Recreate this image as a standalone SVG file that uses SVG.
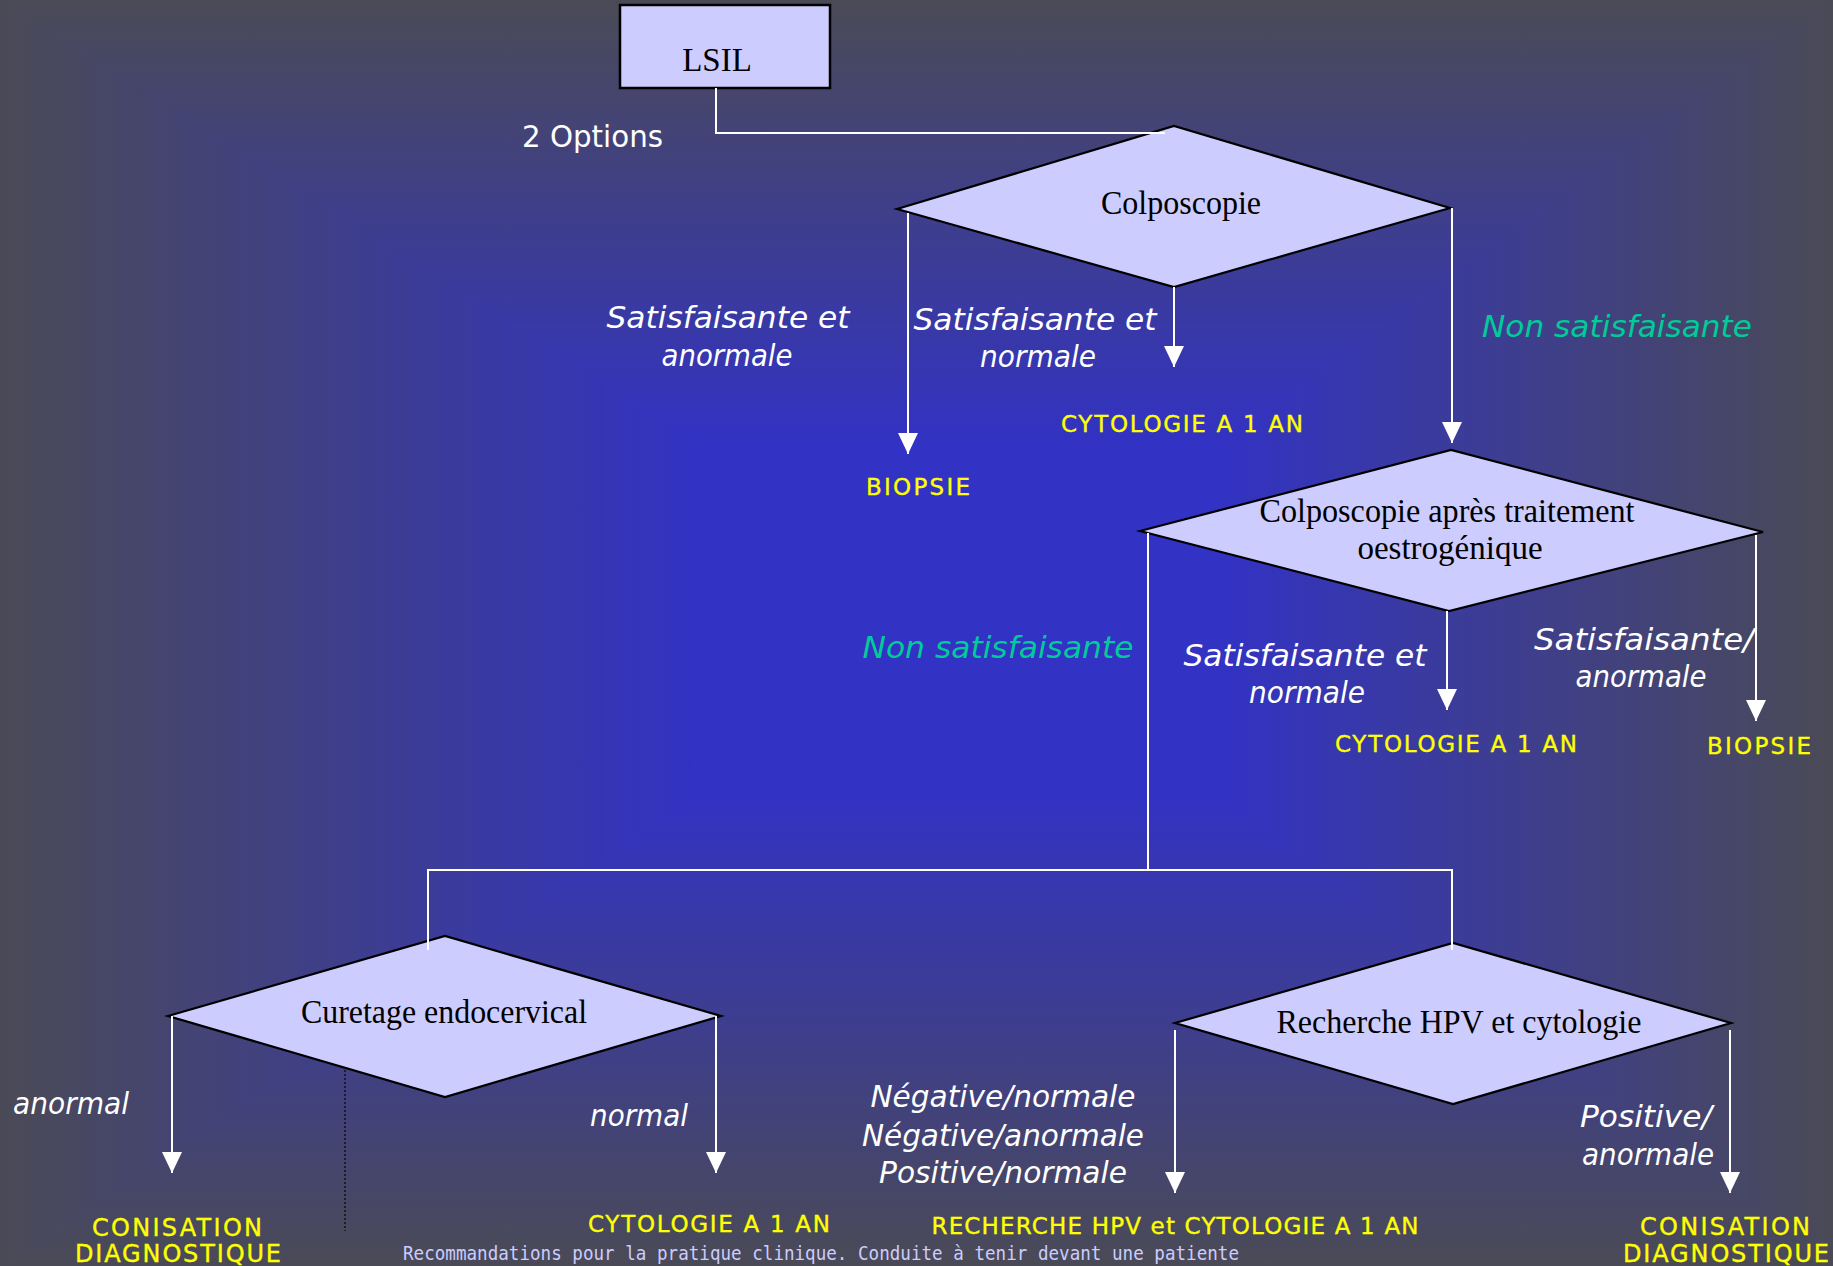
<svg xmlns="http://www.w3.org/2000/svg" width="1833" height="1266" viewBox="0 0 1833 1266">
<defs>
<linearGradient id="gTop" gradientUnits="userSpaceOnUse" x1="0" y1="0" x2="0" y2="445"><stop offset="0" stop-color="#4a4a56"/><stop offset="1" stop-color="#3232c4"/></linearGradient>
<linearGradient id="gBot" gradientUnits="userSpaceOnUse" x1="0" y1="1266" x2="0" y2="795"><stop offset="0" stop-color="#4a4a56"/><stop offset="1" stop-color="#3232c4"/></linearGradient>
<linearGradient id="gLeft" gradientUnits="userSpaceOnUse" x1="0" y1="0" x2="700" y2="0"><stop offset="0" stop-color="#4a4a56"/><stop offset="1" stop-color="#3232c4"/></linearGradient>
<linearGradient id="gRight" gradientUnits="userSpaceOnUse" x1="1833" y1="0" x2="1220" y2="0"><stop offset="0" stop-color="#4a4a56"/><stop offset="1" stop-color="#3232c4"/></linearGradient>
<marker id="arr" viewBox="0 0 21 20" refX="21" refY="10" markerWidth="21" markerHeight="20" markerUnits="userSpaceOnUse" orient="auto">
<path d="M0,0 L21,10 L0,20 z" fill="#ffffff"/>
</marker>
</defs>
<style>
.bg{shape-rendering:crispEdges}
.conn{fill:none;stroke:#ffffff;stroke-width:2}
.dot{fill:none;stroke:#111111;stroke-width:1.5;stroke-dasharray:2 2}
.dia{fill:#ccccff;stroke:#000000;stroke-width:2.2}
.ser{font-family:"Liberation Serif","Times New Roman",serif;font-size:33px;fill:#000000;text-anchor:middle}
.lbl{font-family:"DejaVu Sans",sans-serif;font-style:italic;font-size:31px;fill:#ffffff;text-anchor:middle}
.grn{fill:#00cc99}
.term{font-family:"DejaVu Sans",sans-serif;font-size:23px;fill:#ffff00;stroke:#ffff00;stroke-width:0.35;text-anchor:middle}
.big{font-size:24px}
.foot{font-family:"DejaVu Sans Mono",monospace;font-size:19px;fill:#ccccff}
</style>
<g id="background">
<rect class="bg" x="0" y="0" width="1833" height="1266" fill="#3e3e8d"/>
<polygon class="bg" points="0,0 1833,0 1220,445 700,445" fill="url(#gTop)"/>
<polygon class="bg" points="0,1266 1833,1266 1220,795 700,795" fill="url(#gBot)"/>
<polygon class="bg" points="0,0 700,445 700,795 0,1266" fill="url(#gLeft)"/>
<polygon class="bg" points="1833,0 1220,445 1220,795 1833,1266" fill="url(#gRight)"/>
<rect class="bg" x="700" y="445" width="520" height="350" fill="#3232c4"/>
</g>
<g id="nodes">
<g id="lsil">
<rect x="620" y="5" width="210" height="83" fill="#ccccff" stroke="#000000" stroke-width="2.5"/>
<text class="ser" x="717" y="71">LSIL</text>
</g>
<g id="colposcopie">
<polygon class="dia" points="897,209 1174,126 1450,208 1174,287"/>
<text class="ser" x="1181" y="214" textLength="160" lengthAdjust="spacingAndGlyphs">Colposcopie</text>
</g>
<g id="colposcopie-oestro">
<polygon class="dia" points="1140,531 1451,450 1763,532 1449,611"/>
<text class="ser" x="1447" y="522" textLength="375" lengthAdjust="spacingAndGlyphs">Colposcopie après traitement</text>
<text class="ser" x="1450" y="559">oestrogénique</text>
</g>
<g id="curetage">
<polygon class="dia" points="168,1016 445,936 721,1016 445,1097"/>
<text class="ser" x="444" y="1023" textLength="286" lengthAdjust="spacingAndGlyphs">Curetage endocervical</text>
</g>
<g id="hpv">
<polygon class="dia" points="1175,1023 1453,943 1731,1023 1453,1104"/>
<text class="ser" x="1459" y="1033" textLength="365" lengthAdjust="spacingAndGlyphs">Recherche HPV et cytologie</text>
</g>
<g id="t-cyto1"><text class="term" x="1182" y="432" textLength="242" lengthAdjust="spacing">CYTOLOGIE A 1 AN</text></g>
<g id="t-biopsie1"><text class="term" x="918" y="495" textLength="104" lengthAdjust="spacing">BIOPSIE</text></g>
<g id="t-cyto2"><text class="term" x="1456" y="752" textLength="242" lengthAdjust="spacing">CYTOLOGIE A 1 AN</text></g>
<g id="t-biopsie2"><text class="term" x="1759" y="754" textLength="104" lengthAdjust="spacing">BIOPSIE</text></g>
<g id="t-conisation1"><text class="term big" x="177" y="1236" textLength="170" lengthAdjust="spacing">CONISATION</text><text class="term big" x="178" y="1262" textLength="206" lengthAdjust="spacing">DIAGNOSTIQUE</text></g>
<g id="t-cyto3"><text class="term" x="709" y="1232" textLength="242" lengthAdjust="spacing">CYTOLOGIE A 1 AN</text></g>
<g id="t-hpvcyto"><text class="term" x="1175" y="1234" textLength="487" lengthAdjust="spacing">RECHERCHE HPV et CYTOLOGIE A 1 AN</text></g>
<g id="t-conisation2"><text class="term big" x="1725" y="1235" textLength="170" lengthAdjust="spacing">CONISATION</text><text class="term big" x="1726" y="1262" textLength="206" lengthAdjust="spacing">DIAGNOSTIQUE</text></g>
</g>
<g id="connectors">
<path class="conn" d="M716,88 V133 H1165"/>
<path class="conn" d="M908,213 V454" marker-end="url(#arr)"/>
<path class="conn" d="M1174,287 V367" marker-end="url(#arr)"/>
<path class="conn" d="M1452,208 V443" marker-end="url(#arr)"/>
<path class="conn" d="M1148,533 V870"/>
<path class="conn" d="M428,950 V870 H1452 V950"/>
<path class="conn" d="M1447,611 V710" marker-end="url(#arr)"/>
<path class="conn" d="M1756,535 V721" marker-end="url(#arr)"/>
<path class="conn" d="M172,1016 V1173" marker-end="url(#arr)"/>
<path class="conn" d="M716,1016 V1173" marker-end="url(#arr)"/>
<path class="conn" d="M1175,1030 V1193" marker-end="url(#arr)"/>
<path class="conn" d="M1730,1030 V1193" marker-end="url(#arr)"/>
<path class="dot" d="M345,1070 V1231"/>
</g>
<g id="labels">
<text x="522" y="147" font-family="DejaVu Sans, sans-serif" font-size="31" fill="#ffffff" textLength="141" lengthAdjust="spacingAndGlyphs">2 Options</text>
<text class="lbl" x="728" y="328" textLength="243" lengthAdjust="spacingAndGlyphs">Satisfaisante et</text>
<text class="lbl" x="727" y="366" textLength="131" lengthAdjust="spacingAndGlyphs">anormale</text>
<text class="lbl" x="1035" y="330" textLength="243" lengthAdjust="spacingAndGlyphs">Satisfaisante et</text>
<text class="lbl" x="1038" y="367" textLength="116" lengthAdjust="spacingAndGlyphs">normale</text>
<text class="lbl grn" x="1617" y="337" textLength="270" lengthAdjust="spacingAndGlyphs">Non satisfaisante</text>
<text class="lbl grn" x="998" y="658" textLength="271" lengthAdjust="spacingAndGlyphs">Non satisfaisante</text>
<text class="lbl" x="1305" y="666" textLength="243" lengthAdjust="spacingAndGlyphs">Satisfaisante et</text>
<text class="lbl" x="1307" y="703" textLength="116" lengthAdjust="spacingAndGlyphs">normale</text>
<text class="lbl" x="1644" y="650" textLength="220" lengthAdjust="spacingAndGlyphs">Satisfaisante/</text>
<text class="lbl" x="1641" y="687" textLength="131" lengthAdjust="spacingAndGlyphs">anormale</text>
<text class="lbl" x="71" y="1114" textLength="116" lengthAdjust="spacingAndGlyphs">anormal</text>
<text class="lbl" x="639" y="1126" textLength="98" lengthAdjust="spacingAndGlyphs">normal</text>
<text class="lbl" x="1003" y="1107" textLength="265" lengthAdjust="spacingAndGlyphs">Négative/normale</text>
<text class="lbl" x="1003" y="1146" textLength="282" lengthAdjust="spacingAndGlyphs">Négative/anormale</text>
<text class="lbl" x="1003" y="1183" textLength="248" lengthAdjust="spacingAndGlyphs">Positive/normale</text>
<text class="lbl" x="1646" y="1127" textLength="132" lengthAdjust="spacingAndGlyphs">Positive/</text>
<text class="lbl" x="1648" y="1165" textLength="132" lengthAdjust="spacingAndGlyphs">anormale</text>
<text class="foot" x="403" y="1260" textLength="836" lengthAdjust="spacingAndGlyphs">Recommandations pour la pratique clinique. Conduite à tenir devant une patiente</text>
</g>
</svg>
